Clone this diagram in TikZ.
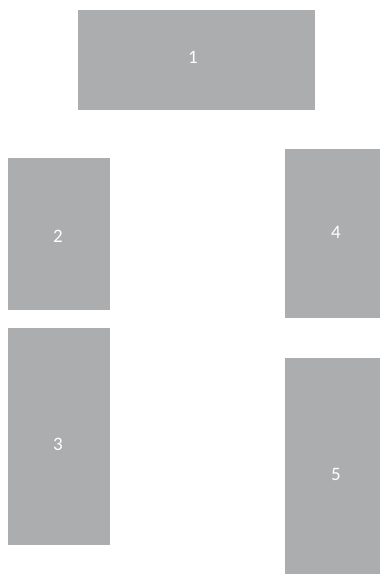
\documentclass[tikz,border=0pt]{standalone}
\usepackage{fontspec}
\setmainfont{Carlito}
\definecolor{boxgray}{RGB}{172,173,175}
\begin{document}
\begin{tikzpicture}[x=1pt,y=-1pt,
  blk/.style={inner sep=0pt,text=white,font=\fontsize{19}{21}\selectfont}]
\useasboundingbox[fill=white] (0,0) rectangle (380,574);
\fill[boxgray] (78,10) rectangle (315,110);
\node[blk] (b1) at (193,57) {1};
\fill[boxgray] (8,158) rectangle (110,310);
\node[blk] (b2) at (58,236) {2};
\fill[boxgray] (8,328) rectangle (110,545);
\node[blk] (b3) at (58,444) {3};
\fill[boxgray] (285,149) rectangle (380,318);
\node[blk] (b4) at (336,232) {4};
\fill[boxgray] (285,358) rectangle (380,574);
\node[blk] (b5) at (336,474) {5};
\end{tikzpicture}
\end{document}
